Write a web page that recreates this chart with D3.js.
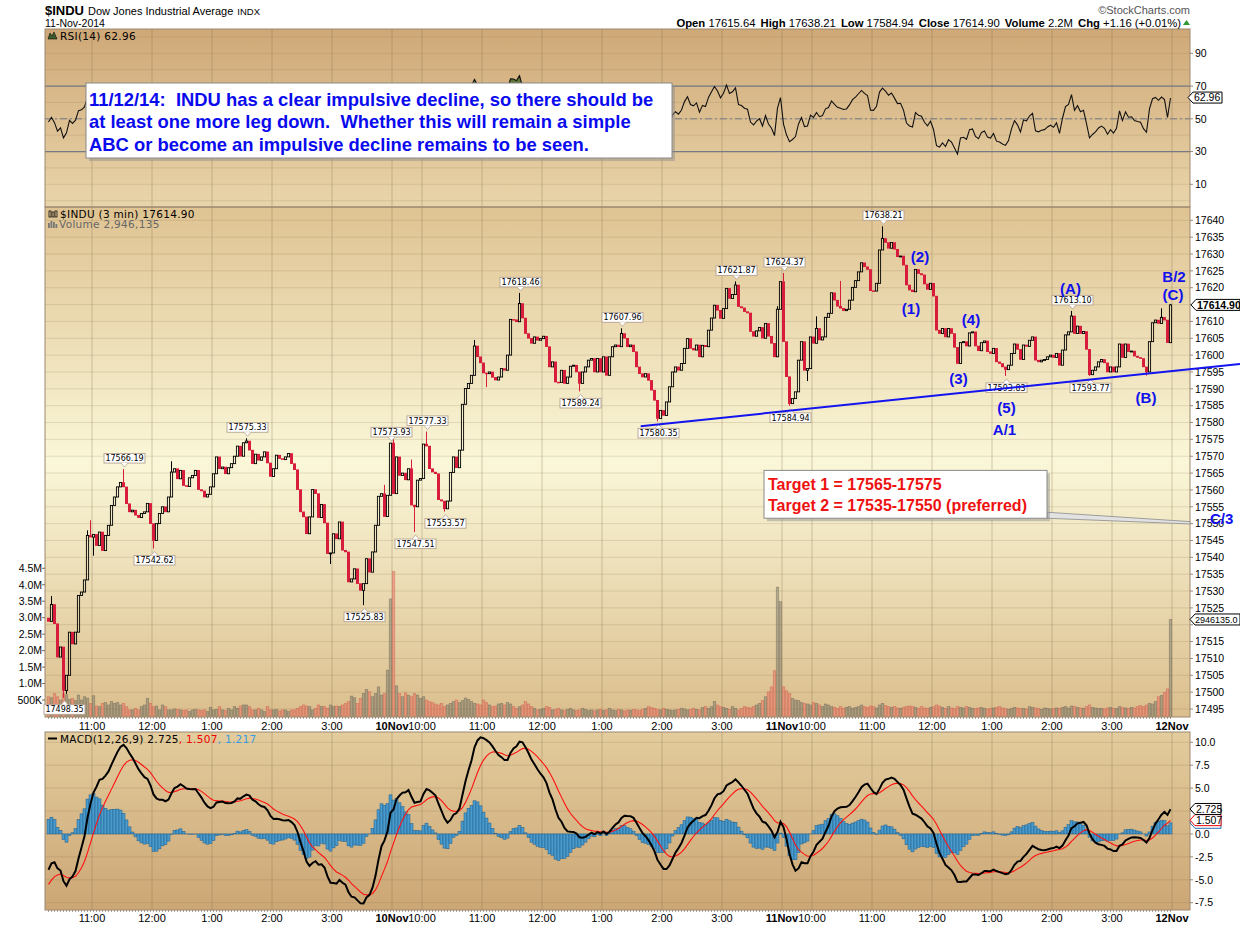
<!DOCTYPE html>
<html><head><meta charset="utf-8">
<script src="https://cdn.jsdelivr.net/npm/d3@7/dist/d3.min.js"></script>
<style>body{margin:0;background:#fff;}svg{display:block;font-family:"Liberation Sans",Arial,sans-serif;}</style>
</head><body><svg id="c" width="1240" height="928"></svg>
<script>
// ================= DATA =================
const dayLabels = ["10Nov","11Nov","12Nov"];
const hourLabels = ["10:00","11:00","12:00","1:00","2:00","3:00"];
const dayStartMin = [45,0,0];          // first bar (minutes after 9:30) per session
const day1Open = 17522;
const day1Close = [17521,17526,17520.3,17510.4,17513.4,17500.5,17505,17517.8,17514.3,17517.8,
 17528.7,17529.7,17533.3,17546.5,17546,17546.8,17543.5,17547.5,17542,17546.5,
 17549.5,17555.4,17557.9,17560.9,17562.2,17560.9,17555.9,17553.5,17554,17552.5,
 17551.8,17553,17553.5,17556,17550,17545,17550,17553,17555,17553.5,
 17557.9,17565.3,17566.3,17563.3,17565.8,17561.3,17561,17563.6,17564.3,17565.8,
 17560.1,17559.7,17557.9,17558.7,17560.9,17564.8,17569.8,17566.3,17566.8,17564.8,
 17566.6,17567.8,17570,17573,17570,17574,17574.5,17571.8,17567.8,17570.6,
 17568.8,17569.8,17571.3,17568,17564,17566.3,17570.3,17569.3,17569,17569.8,
 17570.8,17567.8,17566,17560.1,17553.5,17552,17547,17552,17560.1,17558.9,
 17551.8,17555.7,17550.2,17541.1,17541.3,17547,17545.5,17550.5,17542.1,17541.6,
 17532.7,17533.6,17536.6,17532.2,17530.2,17532.2,17539.6,17535.6,17541.6,17549.5,
 17558.1,17558.9,17552.1,17558.4,17573.9];
const day2Close = [17558.9,17569.8,17564.3,17565,17563,17566.3,17555.5,17555,17562.9,17563.4,
 17573.6,17573,17566.3,17565.3,17564.8,17557.1,17556.7,17554.4,17556.7,17565.2,
 17569.8,17566.6,17571.8,17585.4,17590.1,17591.6,17594,17602.7,17599.5,17597.7,
 17594.7,17594.5,17595,17593.4,17592.6,17593.5,17596,17595.5,17600,17610.6,
 17610.5,17609.9,17615.3,17611,17606.4,17605,17603.5,17605.4,17604.4,17604.9,
 17605.6,17602.5,17596.5,17598,17592,17591.9,17595.5,17591.6,17593.5,17596.7,
 17597,17595,17591.6,17595,17596.5,17598.5,17599,17595,17599,17595,
 17599.5,17594,17599.5,17602.5,17603,17602.5,17606.4,17605,17602.5,17603,
 17601,17596.5,17594.5,17593.5,17594.5,17592.5,17589.6,17586.6,17581.2,17583.6,
 17582.1,17586.1,17590.6,17595,17596.5,17595.5,17597.5,17602,17604.9,17602,
 17601.5,17603,17599.5,17602.9,17602.5,17607.4,17611,17614.8,17613.3,17610.9,
 17613.8,17619.8,17616.8,17618,17620.8,17614.4,17614,17612.9,17612.5,17607,
 17605.6,17607.2,17608.2,17605,17609.4,17605.6,17603.5,17599.5,17613.6,17621.8];
const day3Close = [17604,17593.6,17585.6,17587.1,17589.1,17598.5,17604,17595.5,17596,17605.4,
 17603.5,17607.9,17604.5,17605.4,17611.2,17612.4,17618.5,17616.3,17614.5,17613.9,
 17613.2,17613.6,17616.3,17620.1,17622.1,17624.7,17627.4,17626.2,17625.4,17619.1,
 17619,17621.3,17631.2,17634.6,17633.4,17631.7,17633.4,17631.4,17629.2,17629.4,
 17626.7,17620.8,17619.3,17618.8,17625.4,17624.2,17623.8,17621.1,17619.5,17621.3,
 17617.5,17607.4,17606.4,17607.9,17605.4,17607.9,17606.4,17602.3,17597.5,17603.7,
 17604,17602.7,17606.6,17606.9,17602.7,17601.3,17603.7,17604.2,17601,17600.5,
 17602,17598,17597.5,17596.5,17595.7,17597,17600.5,17603.3,17601.7,17598.7,
 17603,17602.6,17604.4,17605.4,17598.5,17598,17598.5,17598.7,17599.5,17600,
 17599.3,17600.5,17597,17601.5,17606,17606.9,17611.6,17606.4,17608.6,17606.4,
 17607,17601.7,17594.2,17595.5,17596.5,17598,17598.7,17597.7,17595,17596.5,
 17595,17596.5,17603.3,17599.3,17603.3,17601,17601.2,17599.7,17599.3,17599,
 17596.5,17595,17604,17609.6,17610.4,17609.4,17611.2,17610.4,17603.7,17614.9];
// volume, thousands of shares
const day1Vol = [600,570,700,600,500,690,660,520,550,480,
 650,500,600,560,400,630,320,300,400,420,
 350,450,400,420,350,400,300,200,200,250,
 200,300,350,550,400,300,320,200,350,300,
 200,200,230,220,200,180,200,150,200,220,
 200,180,200,150,280,200,220,300,200,180,
 250,200,300,250,320,350,350,300,200,200,
 250,200,150,300,200,200,220,170,200,200,
 150,200,200,250,300,350,320,300,200,250,
 350,300,300,250,350,300,320,300,350,400,
 450,620,570,400,550,700,820,750,600,700,
 900,650,700,1410,3570];
const day2Vol = [4400,930,700,600,720,650,600,700,650,550,
 600,500,450,420,380,350,400,300,350,400,
 450,500,420,480,560,520,450,400,380,350,
 500,420,350,300,320,380,400,350,420,380,
 300,250,300,350,450,380,300,250,200,220,
 250,300,280,200,220,250,200,180,220,250,
 200,180,200,250,220,180,200,170,200,220,
 180,200,250,200,180,220,200,170,200,190,
 220,200,180,220,250,300,270,250,220,200,
 250,220,200,180,200,220,250,230,200,220,
 250,220,200,270,300,250,300,450,350,300,
 280,250,220,300,250,200,250,300,280,260,
 300,350,400,480,600,750,900,1390,3930,3490];
const day3Vol = [900,780,700,550,500,480,420,400,380,350,
 420,400,350,300,380,350,300,280,250,300,
 250,280,300,250,280,300,350,300,280,320,
 300,260,350,400,330,300,280,300,260,250,
 280,300,320,300,280,250,300,260,250,280,
 300,350,320,280,250,300,260,240,300,280,
 260,300,280,250,240,260,280,250,230,250,
 260,280,300,260,240,220,250,280,260,240,
 250,230,300,280,260,240,220,260,250,230,
 240,260,250,280,300,260,320,300,280,260,
 250,300,350,280,260,240,250,230,260,280,
 250,240,300,270,260,250,280,260,300,330,
 300,350,400,380,450,600,640,730,840,2946];
// labelled extremes: [session, bar, kind, value]
const taggedExtremes = [
 [0,5,"L",17498.35],[0,25,"H",17566.19],[0,35,"L",17542.62],[0,66,"H",17575.33],[0,105,"L",17525.83],[0,114,"H",17573.93],
 [1,7,"L",17547.51],[1,11,"H",17577.33],[1,17,"L",17553.57],[1,42,"H",17618.46],[1,62,"L",17589.24],[1,76,"H",17607.96],[1,88,"L",17580.35],[1,114,"H",17621.87],
 [2,0,"H",17624.37],[2,2,"L",17584.94],[2,33,"H",17638.21],[2,74,"L",17593.83],[2,96,"H",17613.10],[2,102,"L",17593.77]];
// other visible wicks: [session, bar, kind, value]
const extraWicks = [
 [0,1,"H",17528.5],[0,6,"L",17499.5],[0,13,"H",17548],[0,14,"H",17551],[0,15,"L",17540.5],[0,41,"H",17568.5],[0,94,"L",17538],[0,112,"H",17561.5],
 [1,0,"H",17575],[1,6,"H",17569],[1,27,"H",17604.5],[1,31,"L",17590.5],[1,128,"H",17614.5],
 [2,8,"L",17592.3],[2,11,"H",17611.5],[2,19,"H",17622],[2,121,"L",17593.9],[2,126,"H",17613.9],[2,129,"H",17615.2]];
const lastValues = {rsi:62.96, close:17614.90, volume:2946135, macd:2.725, signal:1.507, hist:1.217};
const headerStats = [["Open","17615.64"],["High","17638.21"],["Low","17584.94"],["Close","17614.90"],["Volume","2.2M"],["Chg","+1.16 (+0.01%)"]];
const rsiSeed = 48;               // RSI at first bar
const macdSeed = [-3.9, -5.5];    // MACD, signal at first bar
const rsiTicks = [10,30,50,70,90];
const macdTicks = [-7.5,-5,-2.5,0,2.5,5,7.5,10];
const volTicks = [500000,1000000,1500000,2000000,2500000,3000000,3500000,4000000,4500000];
const volTickLabels = ["500K","1.0M","1.5M","2.0M","2.5M","3.0M","3.5M","4.0M","4.5M"];
const priceTickMin = 17495, priceTickMax = 17640, priceTickStep = 5;
const trendLine = [[638.7,17578.9],[1238,17597.4]];   // [minute index, price]
const waveLabels = [["(2)",918,17629.1],["(1)",909,17613.7],["(4)",969,17610.6],["(3)",956.5,17593.1],
 ["(5)",1004.5,17584.3],["A/1",1002.5,17577.8],["(A)",1068.5,17619.8],["B/2",1172,17623.2],
 ["(C)",1171,17618.1],["(B)",1144,17587.5],["C/3",1219.7,17551.4]];
const noteLines = ["11/12/14:  INDU has a clear impulsive decline, so there should be",
 "at least one more leg down.  Whether this will remain a simple",
 "ABC or become an impulsive decline remains to be seen."];
const targetLines = ["Target 1 = 17565-17575","Target 2 = 17535-17550 (preferred)"];

// ================= SCALES / LAYOUT =================
const svg = d3.select("#c");
const L = 45, R = 1190;
const PR = {rsi:[29,207], px:[207,717], macd:[732,910]};
const x = d3.scaleLinear().domain([43,1188]).range([L,R]);
const yRsi = d3.scaleLinear().domain([10,90]).range([184.3,53.3]);
const yPx = d3.scaleLinear().domain([17495,17640]).range([709,220.3]);
const yVol = d3.scaleLinear().domain([0,4500000]).range([716.5,568.3]);
const yMacd = d3.scaleLinear().domain([-7.5,10]).range([902.7,742.3]);

// build bars
const bars = []; let prev = day1Open;
[day1Close,day2Close,day3Close].forEach((arr,d)=>{
  const vols=[day1Vol,day2Vol,day3Vol][d];
  arr.forEach((c,i)=>{
    const t = d*390 + dayStartMin[d] + 3*i;
    bars.push({d,i,t,o:prev,c,h:Math.max(prev,c),l:Math.min(prev,c),v:vols[i]*1000});
    prev = c;
  });
});
const barOf = (d,i)=>bars.find(b=>b.d===d&&b.i===i);
taggedExtremes.concat(extraWicks).forEach(([d,i,k,v])=>{const b=barOf(d,i); if(!b) return; if(k==="H") b.h=Math.max(b.h,v); else b.l=Math.min(b.l,v);});
const bx = b=>x(b.t+1.5);

// indicators
const closes = bars.map(b=>b.c);
const diffs = closes.map((c,i)=>i?c-closes[i-1]:0);
const mag0 = d3.mean(diffs.slice(1,15),Math.abs);
let ag = mag0*rsiSeed/100, al = mag0*(1-rsiSeed/100);
bars.forEach((b,i)=>{ if(i>0){const dd=diffs[i]; ag=(ag*13+Math.max(dd,0))/14; al=(al*13+Math.max(-dd,0))/14;} b.rsi=100-100/(1+ag/al); });
let e12=closes[0], e26=closes[0]-macdSeed[0], sig=macdSeed[1];
bars.forEach((b,i)=>{ if(i>0){e12+=(b.c-e12)*2/13; e26+=(b.c-e26)*2/27;} b.macd=e12-e26; if(i>0) sig+=(b.macd-sig)*0.2; b.sig=sig; b.hist=b.macd-sig; });

// ================= BACKGROUNDS =================
const defs = svg.append("defs");
function grad(id,stops){const g=defs.append("linearGradient").attr("id",id).attr("x1",0).attr("y1",0).attr("x2",0).attr("y2",1);stops.forEach(([o,c])=>g.append("stop").attr("offset",o).attr("stop-color",c));}
grad("gRsi",[[0,"#cfa877"],[1,"#e9d5aa"]]);
grad("gPx",[[0,"#dfc392"],[0.5,"#faf7d8"],[1,"#dbbe8d"]]);
grad("gMacd",[[0,"#e3cc9d"],[1,"#cca675"]]);
Object.entries({rsi:"gRsi",px:"gPx",macd:"gMacd"}).forEach(([k,g])=>{
  svg.append("rect").attr("x",L).attr("y",PR[k][0]).attr("width",R-L).attr("height",PR[k][1]-PR[k][0]).attr("fill",`url(#${g})`);
  defs.append("clipPath").attr("id","clip_"+k).append("rect").attr("x",L).attr("y",PR[k][0]).attr("width",R-L).attr("height",PR[k][1]-PR[k][0]);
});

// time ticks
const timeTicks=[];
for(let d=0;d<3;d++){
  hourLabels.forEach((lab,k)=>{const t=d*390+30+60*k; if(t>=43) timeTicks.push({t,lab,bold:false});});
  timeTicks.push({t:(d+1)*390,lab:dayLabels[d],bold:true});
}
const grid = svg.append("g");
Object.values(PR).forEach(([y0,y1])=>{
  grid.selectAll(null).data(timeTicks).join("line").attr("x1",d=>x(d.t)).attr("x2",d=>x(d.t)).attr("y1",y0).attr("y2",y1)
    .attr("stroke","#7d6a48").attr("stroke-opacity",0.32);
});
const priceTicks = d3.range(priceTickMin, priceTickMax+0.1, priceTickStep);
grid.selectAll(null).data(priceTicks).join("line").attr("x1",L).attr("x2",R).attr("y1",d=>yPx(d)).attr("y2",d=>yPx(d)).attr("stroke","#7d6a48").attr("stroke-opacity",0.18);
grid.selectAll(null).data(d3.range(0,101,10)).join("line").attr("x1",L).attr("x2",R).attr("y1",d=>yRsi(d)).attr("y2",d=>yRsi(d)).attr("stroke","#7d6a48").attr("stroke-opacity",0.16);
grid.selectAll(null).data(macdTicks).join("line").attr("x1",L).attr("x2",R).attr("y1",d=>yMacd(d)).attr("y2",d=>yMacd(d)).attr("stroke","#7d6a48").attr("stroke-opacity",0.2);

// ================= RSI =================
const gR = svg.append("g").attr("clip-path","url(#clip_rsi)");
gR.append("path").datum(bars).attr("d",d3.area().x(bx).y0(yRsi(70)).y1(b=>yRsi(Math.max(70,b.rsi)))).attr("fill","#4d6b2c").attr("opacity",0.85);
[70,30].forEach(v=>gR.append("line").attr("x1",L).attr("x2",R).attr("y1",yRsi(v)).attr("y2",yRsi(v)).attr("stroke","#747a86").attr("stroke-width",1.2));
gR.append("line").attr("x1",L).attr("x2",R).attr("y1",yRsi(50)).attr("y2",yRsi(50)).attr("stroke","#747a86").attr("stroke-width",1).attr("stroke-dasharray","7,3,2,3");
gR.append("path").datum(bars).attr("d",d3.line().x(bx).y(b=>yRsi(b.rsi))).attr("fill","none").attr("stroke","#111").attr("stroke-width",1.1);

// ================= PRICE PANEL =================
const gP = svg.append("g").attr("clip-path","url(#clip_px)");
gP.selectAll("rect.vol").data(bars).join("rect").attr("class","vol")
  .attr("x",b=>bx(b)-1.3).attr("width",2.6).attr("y",b=>yVol(b.v)).attr("height",b=>yVol(0)-yVol(b.v))
  .attr("fill",b=>b.c>=b.o?"rgba(125,122,105,0.5)":"rgba(232,110,95,0.5)")
  .attr("stroke",b=>b.c>=b.o?"rgba(95,92,80,0.55)":"rgba(205,90,78,0.6)").attr("stroke-width",0.6);
const cg = gP.selectAll("g.cdl").data(bars).join("g").attr("class","cdl");
cg.each(function(b){
  const g=d3.select(this), cx=bx(b), up=b.c>=b.o, col=up?"#000":"#d81c3c";
  const top=yPx(Math.max(b.o,b.c)), bot=yPx(Math.min(b.o,b.c));
  g.append("line").attr("x1",cx).attr("x2",cx).attr("y1",yPx(b.h)).attr("y2",top).attr("stroke",col).attr("stroke-width",1);
  g.append("line").attr("x1",cx).attr("x2",cx).attr("y1",bot).attr("y2",yPx(b.l)).attr("stroke",col).attr("stroke-width",1);
  const h=Math.max(bot-top,0.9);
  if(up) g.append("rect").attr("x",cx-1.1).attr("y",top).attr("width",2.2).attr("height",h).attr("fill","none").attr("stroke","#000").attr("stroke-width",0.9);
  else g.append("rect").attr("x",cx-1.5).attr("y",top-0.3).attr("width",3).attr("height",h+0.6).attr("fill","#d81c3c");
});

// ================= MACD =================
const gM = svg.append("g").attr("clip-path","url(#clip_macd)");
gM.selectAll("rect").data(bars).join("rect")
  .attr("x",b=>bx(b)-1.5).attr("width",3)
  .attr("y",b=>Math.min(yMacd(0),yMacd(b.hist))).attr("height",b=>Math.abs(yMacd(b.hist)-yMacd(0)))
  .attr("fill","#4a9bcb").attr("stroke","#1d5d8c").attr("stroke-width",0.5);
gM.append("path").datum(bars).attr("d",d3.line().x(bx).y(b=>yMacd(b.sig))).attr("fill","none").attr("stroke","#ff1010").attr("stroke-width",1.1);
gM.append("path").datum(bars).attr("d",d3.line().x(bx).y(b=>yMacd(b.macd))).attr("fill","none").attr("stroke","#000").attr("stroke-width",2);

// ================= BORDERS & AXES =================
Object.values(PR).forEach(([y0,y1])=>svg.append("rect").attr("x",L).attr("y",y0).attr("width",R-L).attr("height",y1-y0).attr("fill","none").attr("stroke","#9c8870").attr("stroke-width",1));
// value tags positions (right side), used to hide axis labels lying under them
const tagYs = {rsi:[yRsi(lastValues.rsi)], px:[yPx(lastValues.close), yVol(lastValues.volume)], macd:[yMacd(lastValues.macd),yMacd(lastValues.signal),yMacd(lastValues.hist)]};
const ax = svg.append("g").attr("font-size","10.5px").attr("fill","#000");
function rightAxis(vals,scale,fmt,hide){
  vals.forEach(v=>{
    ax.append("line").attr("x1",R).attr("x2",R+3).attr("y1",scale(v)).attr("y2",scale(v)).attr("stroke","#9c8870");
    if(hide.some(y=>Math.abs(y-scale(v))<7.5)) return;
    ax.append("text").attr("x",R+5).attr("y",scale(v)).attr("dy","0.36em").text(fmt(v));
  });
}
rightAxis(rsiTicks,yRsi,v=>v,tagYs.rsi);
rightAxis(priceTicks,yPx,v=>v,tagYs.px);
rightAxis(macdTicks,yMacd,v=>v.toFixed(1),tagYs.macd);
volTicks.forEach((v,k)=>{
  ax.append("line").attr("x1",L-3).attr("x2",L).attr("y1",yVol(v)).attr("y2",yVol(v)).attr("stroke","#7a6a58");
  ax.append("text").attr("x",L-3).attr("y",yVol(v)).attr("dy","0.36em").attr("text-anchor","end").text(volTickLabels[k]);
});
[PR.px[1],PR.macd[1]].forEach(yb=>{
  ax.selectAll(null).data(bars).join("line").attr("x1",bx).attr("x2",bx).attr("y1",yb).attr("y2",yb+2).attr("stroke","#8a7a66").attr("stroke-width",0.7);
});
[729.5,921.5].forEach(yl=>{
  ax.selectAll(null).data(timeTicks).join("text").attr("x",d=>x(d.t)).attr("y",yl).attr("text-anchor","middle")
    .attr("font-size","11px").attr("font-weight",d=>d.bold?"bold":"normal").text(d=>d.lab);
});

// ================= PRICE TAGS =================
const tg = svg.append("g").attr("font-family","'DejaVu Sans',Verdana,sans-serif").attr("font-size","8px");
taggedExtremes.forEach(([d,i,k,v])=>{
  const b=barOf(d,i), cx=bx(b)+1, yv=yPx(v), w=41, h=9.6;
  const by = k==="H" ? yv-6-h : yv+7;
  const py = k==="H" ? by+h : by;
  tg.append("rect").attr("x",cx-w/2).attr("y",by).attr("width",w).attr("height",h).attr("fill","#fff").attr("stroke","#b4a290").attr("stroke-width",0.9);
  const tip = k==="H" ? py+4 : py-4;
  tg.append("path").attr("d",`M${cx-3.5},${py} L${cx},${tip} L${cx+3.5},${py}`).attr("fill","#fff").attr("stroke","#b4a290").attr("stroke-width",0.8);
  tg.append("text").attr("x",cx).attr("y",by+h/2).attr("dy","0.36em").attr("text-anchor","middle").text(v.toFixed(2));
});

// ================= ANNOTATIONS =================
svg.append("line").attr("x1",x(trendLine[0][0])).attr("y1",yPx(trendLine[0][1])).attr("x2",x(trendLine[1][0])).attr("y2",yPx(trendLine[1][1]))
  .attr("stroke","#1414f0").attr("stroke-width",2);
const tb = {x0:x(762), x1:x(1045), y0:yPx(17565.8), y1:yPx(17551.6)};
svg.append("path").attr("d",`M${tb.x1},${tb.y1-6} L${R},${yPx(17550.6)} L${R},${yPx(17549.9)} L${tb.x1},${tb.y1}Z`).attr("fill","#e2e2e2").attr("stroke","#8a8a8a").attr("stroke-width",0.8);
svg.append("rect").attr("x",tb.x0+3).attr("y",tb.y0+3).attr("width",tb.x1-tb.x0).attr("height",tb.y1-tb.y0).attr("fill","#8c8c8c").attr("opacity",0.45);
svg.append("rect").attr("x",tb.x0).attr("y",tb.y0).attr("width",tb.x1-tb.x0).attr("height",tb.y1-tb.y0).attr("fill","#fff").attr("stroke","#8a8a8a");
targetLines.forEach((s,k)=>svg.append("text").attr("x",tb.x0+4).attr("y",tb.y0+20+k*20.8).attr("font-size","16px").attr("font-weight","bold").attr("fill","#ee1111").text(s));
svg.append("g").selectAll("text").data(waveLabels).join("text").attr("x",d=>x(d[1])).attr("y",d=>yPx(d[2])).attr("dy","0.36em")
  .attr("text-anchor","middle").attr("font-size","15px").attr("font-weight","bold").attr("fill","#1010ee").text(d=>d[0]);
const nb = {x0:x(84), x1:x(670), y0:yRsi(71.86), y1:yRsi(26.06)};
svg.append("rect").attr("x",nb.x0+3).attr("y",nb.y0+3).attr("width",nb.x1-nb.x0).attr("height",nb.y1-nb.y0).attr("fill","#8c8c8c").attr("opacity",0.45);
svg.append("rect").attr("x",nb.x0).attr("y",nb.y0).attr("width",nb.x1-nb.x0).attr("height",nb.y1-nb.y0).attr("fill","#fff").attr("stroke","#8a8a8a");
noteLines.forEach((s,k)=>svg.append("text").attr("x",nb.x0+3).attr("y",nb.y0+23+k*22.4).style("white-space","pre")
  .attr("font-size","18.4px").attr("font-weight","bold").attr("fill","#0a0aee").text(s));

// ================= VALUE TAGS (right) =================
function valueTag(y,txt,opt){
  const w=opt.w, x0=opt.x0||R;
  svg.append("path").attr("d",`M${x0},${y} L${x0+5},${y-5.5} L${x0+w},${y-5.5} L${x0+w},${y+5.5} L${x0+5},${y+5.5}Z`)
    .attr("fill","#fff").attr("stroke",opt.stroke||"#000").attr("stroke-width",1);
  if(txt) svg.append("text").attr("x",x0+(opt.pad||6)).attr("y",y).attr("dy","0.36em").attr("font-size",opt.fs||"10.5px").attr("font-weight",opt.bold?"bold":"normal").text(txt);
}
valueTag(yRsi(lastValues.rsi),lastValues.rsi.toFixed(2),{w:34,x0:R-2});
valueTag(yPx(lastValues.close),lastValues.close.toFixed(2),{w:49,bold:true,x0:R+1});
valueTag(yVol(lastValues.volume),lastValues.volume.toFixed(1),{w:50,x0:R,fs:"9px",pad:5});
valueTag(yMacd(lastValues.hist),null,{w:31,stroke:"#2a6db0"});   // hidden under the signal tag, as in the original
valueTag(yMacd(lastValues.signal),lastValues.signal.toFixed(3),{w:31,stroke:"#ee0000"});
valueTag(yMacd(lastValues.macd),lastValues.macd.toFixed(3),{w:31,stroke:"#000"});

// ================= HEADER & LEGENDS =================
const hd = svg.append("text").attr("x",L).attr("y",14.5);
hd.append("tspan").attr("font-weight","bold").attr("font-size","13px").text("$INDU");
hd.append("tspan").attr("font-size","11px").attr("dx",4).text("Dow Jones Industrial Average");
hd.append("tspan").attr("font-size","9.5px").attr("dx",4).text("INDX");
svg.append("text").attr("x",L).attr("y",26.5).attr("font-size","10.5px").text("11-Nov-2014");
svg.append("text").attr("x",R).attr("y",14).attr("text-anchor","end").attr("font-size","11px").attr("fill","#555").text("\u00A9StockCharts.com");
const st = svg.append("text").attr("x",1181).attr("y",26.5).attr("text-anchor","end").attr("font-size","11.3px");
headerStats.forEach(([k,v],n)=>{st.append("tspan").attr("font-weight","bold").attr("dx",n?5:0).text(k); st.append("tspan").text(" "+v);});
svg.append("path").attr("d","M1183,25 L1186.5,20 L1190,25Z").attr("fill","#2f9a2f");

const lg = svg.append("g").attr("font-family","'DejaVu Sans',Verdana,sans-serif").attr("font-size","10.5px").attr("letter-spacing","0.3px");
lg.append("path").attr("d","M48,39 L50,33 L52,36 L54,32 L57,39Z").attr("fill","#3d5a2a").attr("stroke","#111").attr("stroke-width",0.6);
lg.append("text").attr("x",60).attr("y",39.5).text(`RSI(14) ${lastValues.rsi.toFixed(2)}`);
[[49,211,6],[52,212,5],[55,211,6]].forEach(([a,b,h])=>lg.append("rect").attr("x",a).attr("y",b).attr("width",2).attr("height",h).attr("fill","none").attr("stroke","#111").attr("stroke-width",0.8));
lg.append("text").attr("x",60).attr("y",217.5).text(`$INDU (3 min) ${lastValues.close.toFixed(2)}`);
[[48,223,5],[50.5,221,7],[53,222,6],[55.5,224,4]].forEach(([a,b,h])=>lg.append("rect").attr("x",a).attr("y",b).attr("width",1.8).attr("height",h).attr("fill","#777"));
lg.append("text").attr("x",59).attr("y",228).attr("fill","#666").text(`Volume ${d3.format(",")(lastValues.volume)}`);
lg.append("line").attr("x1",48).attr("x2",57).attr("y1",738.5).attr("y2",738.5).attr("stroke","#000").attr("stroke-width",2);
const ml = lg.append("text").attr("x",60).attr("y",742.5);
ml.append("tspan").text(`MACD(12,26,9) ${lastValues.macd.toFixed(3)}`);
ml.append("tspan").attr("fill","#ee0000").text(`, ${lastValues.signal.toFixed(3)}`);
ml.append("tspan").attr("fill","#3a9be0").text(`, ${lastValues.hist.toFixed(3)}`);
</script></body></html>
